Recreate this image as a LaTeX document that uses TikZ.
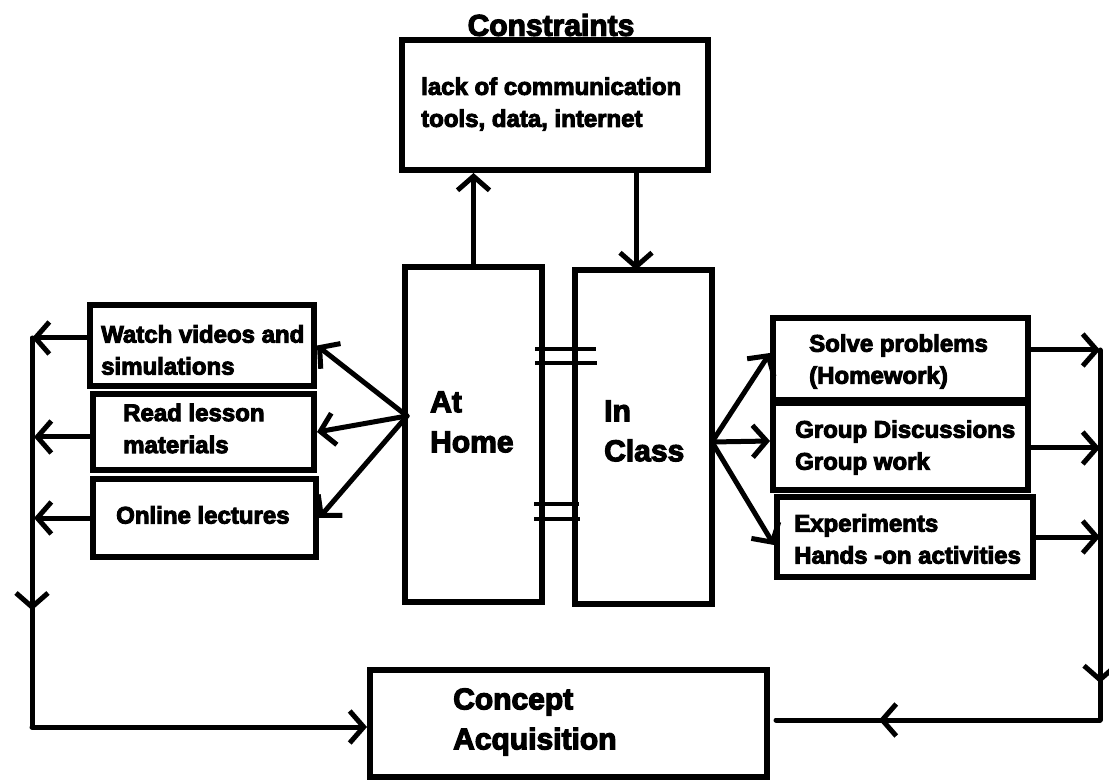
\documentclass[tikz,border=0pt]{standalone}
\usepackage{fontspec}
\setmainfont{Liberation Sans}[BoldFeatures={FakeBold=4}]
\usetikzlibrary{arrows.meta,decorations.markings}
\begin{document}
\begin{tikzpicture}[x=1pt,y=-1pt,
 box/.style={draw,line width=6pt,rectangle,inner sep=0pt},
 lab/.style={anchor=west,font=\fontsize{24}{32}\selectfont\bfseries,align=left,inner sep=0pt},
 big/.style={anchor=west,font=\fontsize{30}{40}\selectfont\bfseries,align=left,inner sep=0pt},
 conn/.style={line width=5pt,line cap=round},
 tip/.style={-{Straight Barb[length=14pt,width=32pt]}},
 midarrow/.style={postaction={decorate},decoration={markings,mark=at position #1 with {\arrow{Straight Barb[length=14pt,width=32pt]}}}},
]
\fill[white] (0,0) rectangle (1109,783);
\useasboundingbox (0,0) rectangle (1109,783);

% boxes
\node[box,minimum width=306pt,minimum height=130pt] (cons) at (555,105) {};
\node[box,minimum width=137pt,minimum height=335pt] (home) at (473.5,434.5) {};
\node[box,minimum width=137pt,minimum height=334pt] (class) at (643.5,437) {};
\node[box,minimum width=224pt,minimum height=81pt] (watch) at (202,345.5) {};
\node[box,minimum width=221pt,minimum height=76pt] (read) at (203.5,432) {};
\node[box,minimum width=223pt,minimum height=78pt] (online) at (204.5,518) {};
\node[box,minimum width=255pt,minimum height=82pt] (solve) at (900.5,359) {};
\node[box,minimum width=255pt,minimum height=87pt] (group) at (900.5,447) {};
\node[box,minimum width=256pt,minimum height=80pt] (exp) at (905,537) {};
\node[box,minimum width=397pt,minimum height=107pt] (concept) at (568.5,723.5) {};

% texts
\node[anchor=center,inner sep=0pt,font=\fontsize{30}{36}\selectfont\bfseries] (title) at (551,25) {Constraints};
\node[lab] (tcons) at (421,104) {lack of communication\\tools, data, internet};
\node[big] (thome) at (430,422) {At\\Home};
\node[big] (tclass) at (604,431) {In\\Class};
\node[lab] (twatch) at (101,350) {Watch videos and\\simulations};
\node[lab] (tread) at (123,428.5) {Read lesson\\materials};
\node[lab] (tonline) at (116,515) {Online lectures};
\node[lab] (tsolve) at (809,361.5) {Solve problems\\(Homework)};
\node[lab] (tgroup) at (795,447.5) {Group Discussions\\Group work};
\node[lab] (texp) at (794,539) {Experiments\\Hands -on activities};
\node[big] (tconcept) at (453,722) {Concept\\Acquisition};

% coordinates
\coordinate (hubL) at (407,416);
\coordinate (hubR) at (712,442);
\coordinate (L1) at (32,338);
\coordinate (L2) at (34,437);
\coordinate (L3) at (34,518);
\coordinate (Lbot) at (32,727);
\coordinate (R1) at (1100,350);
\coordinate (R2) at (1100,448);
\coordinate (R3) at (1100,537);
\coordinate (Rbot) at (1100,720);
\coordinate (c2) at (636,270);
\coordinate (m1a) at (535,349); \coordinate (m1b) at (596,349);
\coordinate (m2a) at (535,363); \coordinate (m2b) at (597,363);
\coordinate (m3a) at (534,504); \coordinate (m3b) at (579,504);
\coordinate (m4a) at (534,519); \coordinate (m4b) at (580,519);

% top connectors
\draw[conn,tip] (home.north) -- (home.north |- cons.south);
\draw[conn,tip] (c2 |- cons.south) -- (c2);

% middle double links
\draw[line width=4pt] (m1a) -- (m1b);
\draw[line width=4pt] (m2a) -- (m2b);
\draw[line width=4pt] (m3a) -- (m3b);
\draw[line width=4pt] (m4a) -- (m4b);

% left fan
\draw[conn,tip] (hubL) -- (watch.east);
\draw[conn,tip] (hubL) -- (read.east);
\draw[conn,tip] (hubL) -- (online.east);
\draw[conn,tip] (watch.west |- L1) -- (L1);
\draw[conn,tip] (read.west |- L2) -- (L2);
\draw[conn,tip] (online.west |- L3) -- (L3);
\draw[conn,midarrow=0.7] (L1) -- (Lbot);
\draw[conn,tip] (Lbot) -- (concept.west |- Lbot);

% right fan
\draw[conn,tip] (hubR) -- ([yshift=6pt]solve.west);
\draw[conn,tip] (hubR) -- ([yshift=6pt]group.west);
\draw[conn,tip] (hubR) -- ([yshift=-8pt]exp.west);
\draw[conn,tip] (solve.east |- R1) -- (R1);
\draw[conn,tip] (group.east |- R2) -- (R2);
\draw[conn,tip] (exp.east |- R3) -- (R3);
\draw[conn,midarrow=0.9] (R1) -- (Rbot);
\draw[conn,midarrow=0.67,shorten >=6pt] (Rbot) -- (concept.east |- Rbot);
\end{tikzpicture}
\end{document}
